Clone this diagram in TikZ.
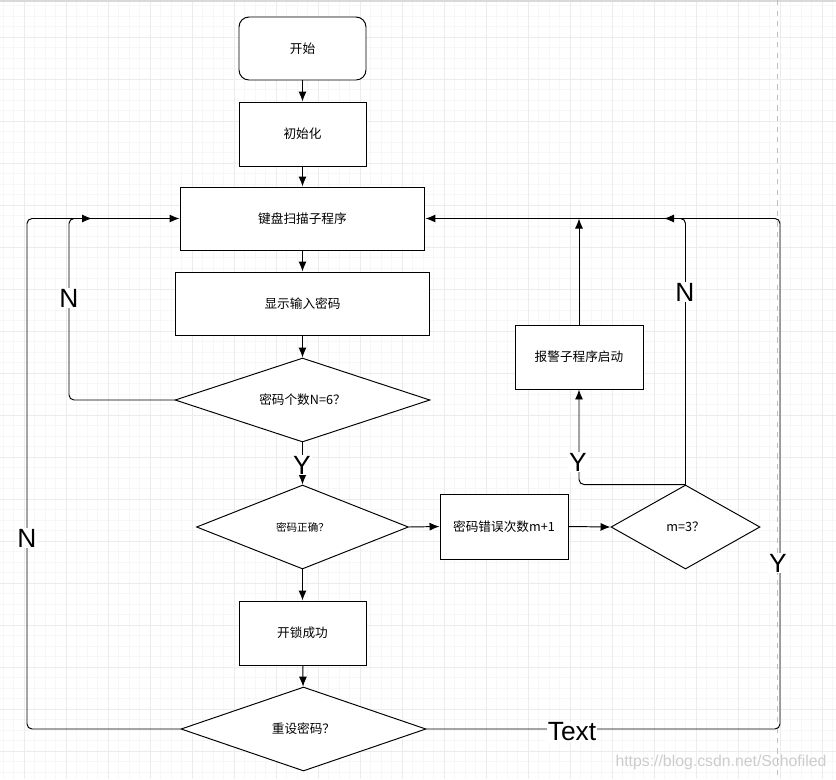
\documentclass[tikz,border=0pt]{standalone}
\usepackage{fontspec}
\setmainfont{Liberation Sans}
\newfontfamily\cjk{Noto Sans CJK SC}
\usetikzlibrary{arrows.meta,shapes.geometric}

\begin{document}
\begin{tikzpicture}[x=0.02cm,y=-0.02cm,line width=0.55pt,
    box/.style={draw,fill=white,rectangle,inner sep=0pt,font=\cjk\fontsize{7.2}{9}\selectfont},
    decide/.style={draw,fill=white,diamond,aspect=3,inner sep=0pt,font=\cjk\fontsize{7.2}{9}\selectfont},
    flow/.style={-{Latex[length=2mm,width=1.6mm]},rounded corners=0.1cm},
    tag/.style={fill=white,inner sep=0.5pt,font=\fontsize{15}{15}\selectfont}]
  \useasboundingbox (0,0) rectangle (836,779);
  % canvas grid
  \foreach \gx in {3,13.5,...,836} \draw[gray!6,line width=0.4pt] (\gx,0) -- (\gx,779);
  \foreach \gy in {5.5,16,...,779} \draw[gray!6,line width=0.4pt] (0,\gy) -- (836,\gy);
  \foreach \gx in {24,66,...,836} \draw[gray!15,line width=0.4pt] (\gx,0) -- (\gx,779);
  \foreach \gy in {37,79,...,779} \draw[gray!15,line width=0.4pt] (0,\gy) -- (836,\gy);
  \draw[gray!30,line width=1pt] (0,1) -- (836,1);
  \draw[gray!50,dashed,line width=0.4pt] (777,0) -- (777,779);

  % steps
  \node[box,rounded corners=0.2cm,minimum width=2.54cm,minimum height=1.26cm] (start) at (302.5,48.5) {开始};
  \node[box,minimum width=2.54cm,minimum height=1.28cm] (init) at (302.5,134) {初始化};
  \node[box,minimum width=4.9cm,minimum height=1.26cm] (scan) at (302.5,218.5) {键盘扫描子程序};
  \node[box,minimum width=5.1cm,minimum height=1.26cm] (show) at (302.5,303.5) {显示输入密码};
  \node[decide,minimum width=5.1cm,minimum height=1.68cm] (count) at (302.5,400) {密码个数N=6？};
  \node[decide,minimum width=4.24cm,minimum height=1.68cm,font=\cjk\fontsize{6}{8}\selectfont] (check) at (302.5,527) {密码正确？};
  \node[box,minimum width=2.56cm,minimum height=1.3cm] (wrong) at (504,526.5) {密码错误次数m+1};
  \node[decide,minimum width=2.98cm,minimum height=1.68cm] (limit) at (685.5,527) {m=3？};
  \node[box,minimum width=2.56cm,minimum height=1.28cm] (alarm) at (579,357) {报警子程序启动};
  \node[box,minimum width=2.54cm,minimum height=1.28cm] (unlock) at (302.5,633) {开锁成功};
  \node[decide,minimum width=4.9cm,minimum height=1.68cm] (reset) at (303.5,729) {重设密码？};

  % loop corners
  \coordinate (innerN) at (69,218.5);
  \coordinate (outerN) at (27,218.5);
  \coordinate (outerEnd) at (92,218.5);
  \coordinate (outerY) at (780,218.5);
  \coordinate (yEnd) at (664,218.5);

  % connectors
  \draw[flow] (start) -- (init);
  \draw[flow] (init) -- (scan);
  \draw[flow] (scan) -- (show);
  \draw[flow] (show) -- (count);
  \draw[flow] (count) -- (check);
  \draw[flow] (count.west) -| (innerN) -- (scan.west);
  \draw[flow] (reset.west) -| (outerN) -- (outerEnd);
  \draw[flow] (reset.east) -| (outerY) -- (yEnd);
  \draw[flow] (limit.north) |- (scan.east);
  \draw[flow] (alarm.north) -- (alarm.north |- scan.east);
  \draw[flow] (limit.north) -| (alarm.south);
  \draw[flow] (check.east) -- (wrong.west);
  \draw[flow] (wrong.east) -- (limit.west);
  \draw[flow] (check) -- (unlock);
  \draw[flow] (unlock) -- (reset);

  % labels
  \node[tag] (nInner) at (69,298) {N};
  \node[tag] (nOuter) at (27,538) {N};
  \node[tag] (nLimit) at (685,292) {N};
  \node[tag] (yCheck) at (302,465) {Y};
  \node[tag] (yLimit) at (578,462) {Y};
  \node[tag] (yOuter) at (778,563) {Y};
  \node[tag] (textTag) at (572,732) {Text};
  \node[text=gray!40,font=\fontsize{9}{10}\selectfont] (mark) at (721,762) {https://blog.csdn.net/Schofiled};
\end{tikzpicture}
\end{document}
